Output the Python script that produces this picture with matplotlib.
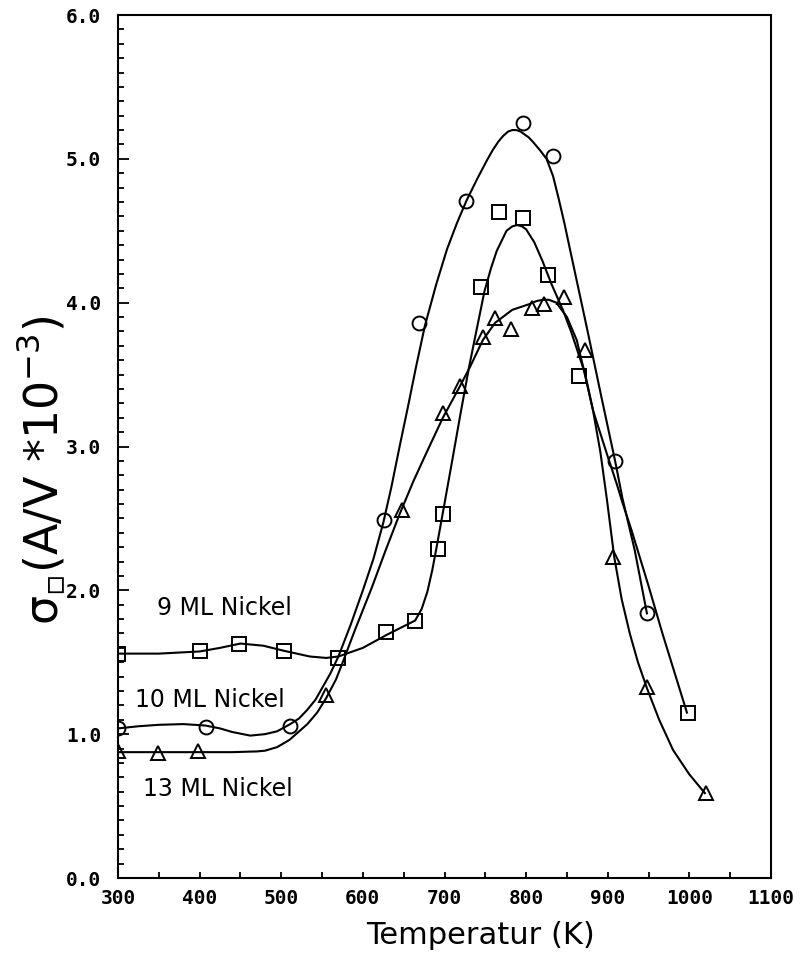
import numpy as np
import matplotlib.pyplot as plt
from matplotlib.ticker import MultipleLocator, FormatStrFormatter

# measured points: 9 ML (squares), 10 ML (circles), 13 ML (triangles)
sq9_T = [300, 400, 448, 503, 569, 628, 664, 692, 698, 745, 767, 796, 827, 865, 998]
sq9_s = [1.56, 1.58, 1.63, 1.58, 1.53, 1.71, 1.79, 2.29, 2.53, 4.11, 4.63, 4.59, 4.19, 3.49, 1.15]

ci10_T = [300, 408, 511, 626, 669, 726, 796, 833, 909, 948]
ci10_s = [1.04, 1.05, 1.06, 2.49, 3.86, 4.71, 5.25, 5.02, 2.90, 1.84]

tr13_T = [300, 349, 398, 555, 648, 698, 719, 747, 762, 782, 807, 822, 846, 872, 907, 948, 1020]
tr13_s = [0.88, 0.87, 0.88, 1.27, 2.56, 3.23, 3.42, 3.76, 3.89, 3.82, 3.96, 3.99, 4.04, 3.67, 2.23, 1.33, 0.59]

# fitted curves
fit9_T = [300, 350, 400, 425, 450, 478, 503, 535, 555, 570, 600, 629, 650, 664, 672, 679, 685,
          690, 698, 710, 720, 730, 740, 749, 757, 764, 776, 783, 789, 795, 800, 810, 820, 831,
          845, 855, 865, 872, 882, 900, 911, 918, 929, 950, 967, 985, 997]
fit9_s = [1.56, 1.56, 1.575, 1.60, 1.63, 1.615, 1.58, 1.54, 1.53, 1.54, 1.60, 1.69, 1.75, 1.79,
          1.87, 1.99, 2.14, 2.29, 2.54, 2.92, 3.24, 3.55, 3.83, 4.08, 4.24, 4.36, 4.50, 4.53,
          4.54, 4.53, 4.51, 4.42, 4.29, 4.13, 3.95, 3.80, 3.63, 3.51, 3.25, 2.93, 2.74, 2.61,
          2.42, 2.03, 1.70, 1.37, 1.15]

fit10_T = [300, 325, 350, 380, 407, 425, 440, 462, 480, 495, 511, 522, 532, 542, 551, 560, 570,
           585, 600, 613, 625, 635, 645, 655, 665, 676, 690, 703, 715, 727, 740, 752, 759, 766,
           772, 778, 783, 788, 793, 798, 803, 808, 817, 825, 833, 840, 847, 853, 864, 875, 892,
           909, 918, 933, 948]
fit10_s = [1.04, 1.055, 1.065, 1.07, 1.06, 1.04, 1.015, 0.99, 1.0, 1.02, 1.07, 1.11, 1.17, 1.24,
           1.33, 1.42, 1.54, 1.76, 2.00, 2.22, 2.47, 2.72, 3.00, 3.27, 3.55, 3.84, 4.13, 4.37,
           4.55, 4.71, 4.86, 4.99, 5.06, 5.12, 5.16, 5.19, 5.20, 5.20, 5.19, 5.17, 5.15, 5.12,
           5.06, 5.00, 4.88, 4.72, 4.55, 4.39, 4.10, 3.81, 3.35, 2.90, 2.64, 2.28, 1.84]

fit13_T = [300, 350, 400, 440, 470, 480, 495, 510, 520, 532, 544, 555, 567, 574, 590, 611, 628,
           645, 662, 679, 698, 719, 731, 747, 762, 783, 804, 812, 820, 828, 837, 850, 862, 870,
           882, 891, 899, 908, 917, 927, 937, 948, 963, 980, 1000, 1019]
fit13_s = [0.875, 0.875, 0.875, 0.875, 0.88, 0.885, 0.91, 0.96, 1.01, 1.07, 1.15, 1.25, 1.38,
           1.48, 1.72, 2.02, 2.28, 2.53, 2.76, 2.97, 3.20, 3.42, 3.55, 3.74, 3.86, 3.95, 3.99,
           4.01, 4.02, 4.02, 4.00, 3.90, 3.74, 3.55, 3.25, 2.96, 2.63, 2.23, 1.94, 1.70, 1.50,
           1.32, 1.10, 0.89, 0.72, 0.59]

labels = ["9 ML Nickel", "10 ML Nickel", "13 ML Nickel"]
label_T = [348, 321, 331]
label_s = [1.88, 1.24, 0.62]

fig = plt.figure(figsize=(8.02, 9.61), dpi=100)
ax = fig.add_axes([118/802, 1 - 878/961, 653/802, 863/961])

ax.plot(fit9_T, fit9_s, color='black', lw=1.5)
ax.plot(fit10_T, fit10_s, color='black', lw=1.5)
ax.plot(fit13_T, fit13_s, color='black', lw=1.5)

mk = dict(linestyle='none', mfc='none', mec='black', mew=1.4)
ax.plot(sq9_T, sq9_s, marker='s', ms=10, **mk)
ax.plot(ci10_T, ci10_s, marker='o', ms=10, **mk)
ax.plot(tr13_T, tr13_s, marker='^', ms=10, **mk)

for txt, t, s in zip(labels, label_T, label_s):
    ax.text(t, s, txt, fontsize=17, va='center', ha='left', family='DejaVu Sans')

ax.set_xlim(300, 1100)
ax.set_ylim(0, 6)
ax.xaxis.set_major_locator(MultipleLocator(100))
ax.xaxis.set_minor_locator(MultipleLocator(50))
ax.yaxis.set_major_locator(MultipleLocator(1.0))
ax.yaxis.set_minor_locator(MultipleLocator(0.1))
ax.yaxis.set_major_formatter(FormatStrFormatter('%.1f'))

for sp in ax.spines.values():
    sp.set_linewidth(1.5)

ax.tick_params(which='both', direction='in', top=False, right=False, width=1.3)
ax.tick_params(axis='y', which='major', length=8, pad=12)
ax.tick_params(axis='y', which='minor', length=4)
ax.tick_params(axis='x', which='both', length=4, pad=8)
for lab in ax.get_xticklabels() + ax.get_yticklabels():
    lab.set_family('DejaVu Sans Mono')
    lab.set_fontweight('bold')
    lab.set_fontsize(14)

fig.text(480/802, 1 - 935/961, "Temperatur (K)", fontsize=22, ha='center', va='center')
fig.text(42/802, 1 - 470/961, "σ$_{▫}$(A/V *10$^{-3}$)", fontsize=33,
         rotation=90, ha='center', va='center')

fig.savefig("out.png", dpi=100)
